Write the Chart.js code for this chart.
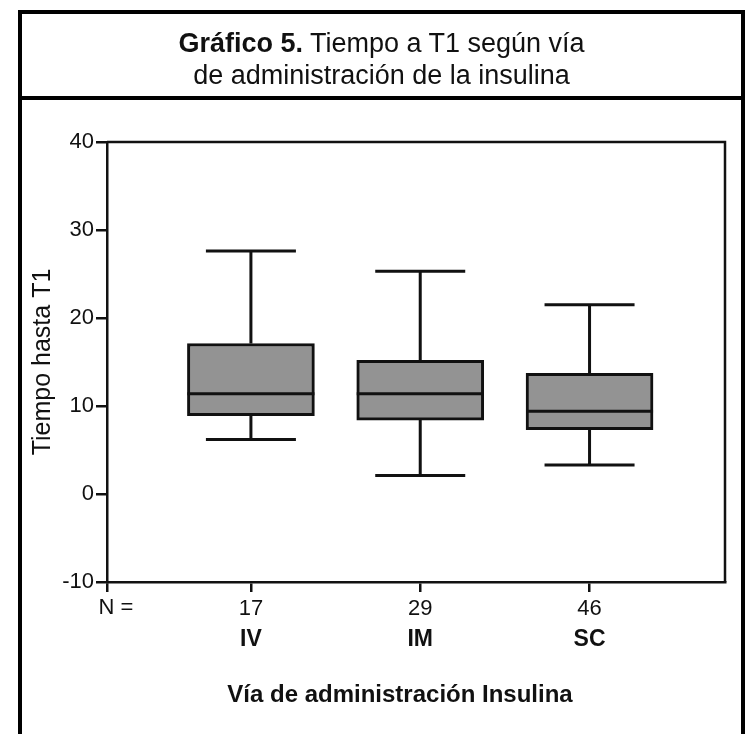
<!DOCTYPE html>
<html>
<head>
<meta charset="utf-8">
<script src="https://cdn.jsdelivr.net/npm/chart.js@4.4.1/dist/chart.umd.min.js"></script>
<style>
html,body{margin:0;padding:0;background:#fff;}
body{width:748px;height:734px;position:relative;overflow:hidden;font-family:"Liberation Sans",Arial,sans-serif;}
#chart{position:absolute;left:0;top:0;}
#frame{position:absolute;left:18px;top:10px;width:719px;height:740px;border:4px solid #000;border-bottom:none;pointer-events:none;}
#head{height:69px;padding-top:13px;border-bottom:4px solid #000;text-align:center;font-size:27px;line-height:32px;color:#111;}
</style>
</head>
<body>
<canvas id="chart" width="748" height="734"></canvas>
<div id="frame">
  <div id="head"><b>Gráfico 5.</b> Tiempo a T1 según vía<br>de administración de la insulina</div>
</div>
<script>
const categories = ['IV', 'IM', 'SC'];
const counts = [17, 29, 46];
const positions = [1, 2, 3];
const whiskerLow = [6.2, 2.1, 3.3];
const q1 = [8.9, 8.4, 7.3];
const median = [11.4, 11.4, 9.4];
const q3 = [17.1, 15.2, 13.7];
const whiskerHigh = [27.6, 25.3, 21.5];
const yTicks = [-10, 0, 10, 20, 30, 40];
const yTitle = 'Tiempo hasta T1';
const xTitle = 'Vía de administración Insulina';

const ink = '#111';
const fam = '"Liberation Sans", Arial, sans-serif';

const boxPlot = {
  id: 'boxPlot',
  beforeDatasetsDraw(chart){
    const {ctx, scales:{x, y}} = chart;
    ctx.save();
    ctx.strokeStyle = ink; ctx.lineWidth = 3;
    positions.forEach((p, i) => {
      const px = x.getPixelForValue(p);
      ctx.beginPath();
      ctx.moveTo(px, y.getPixelForValue(whiskerHigh[i])); ctx.lineTo(px, y.getPixelForValue(q3[i]));
      ctx.moveTo(px, y.getPixelForValue(q1[i])); ctx.lineTo(px, y.getPixelForValue(whiskerLow[i]));
      [whiskerHigh[i], whiskerLow[i]].forEach(v => {
        const py = y.getPixelForValue(v);
        ctx.moveTo(px - 45, py); ctx.lineTo(px + 45, py);
      });
      ctx.stroke();
    });
    ctx.restore();
  },
  afterDatasetsDraw(chart){
    const {ctx, chartArea:a, scales:{y}} = chart;
    const bars = chart.getDatasetMeta(0).data;
    ctx.save();
    ctx.strokeStyle = ink; ctx.lineWidth = 3;
    bars.forEach((b, i) => {
      const py = y.getPixelForValue(median[i]);
      ctx.beginPath(); ctx.moveTo(b.x - b.width/2, py); ctx.lineTo(b.x + b.width/2, py); ctx.stroke();
    });
    ctx.lineWidth = 2.5;
    ctx.beginPath();
    ctx.moveTo(a.left, a.top); ctx.lineTo(a.right, a.top); ctx.lineTo(a.right, a.bottom);
    ctx.stroke();
    ctx.restore();
  },
  afterDraw(chart){
    const {ctx, chartArea:a, scales:{x}} = chart;
    ctx.save();
    ctx.fillStyle = ink;
    ctx.font = '22px ' + fam;
    ctx.textAlign = 'center'; ctx.textBaseline = 'top';
    ctx.fillText('N =', x.left + 9, x.top + 15);
    ctx.font = 'bold 24px ' + fam;
    ctx.textBaseline = 'middle';
    ctx.fillText(xTitle, (a.left + a.right)/2 - 16, 695);
    ctx.restore();
  }
};

const xTicks = s => { s.ticks = [s.min, ...positions].map(v => ({value: v})); };

new Chart(document.getElementById('chart'), {
  type: 'bar',
  data: {
    datasets: [{
      data: positions.map((p, i) => ({x: p, y: [q1[i], q3[i]]})),
      backgroundColor: '#939393',
      borderColor: ink,
      borderWidth: 3,
      borderSkipped: false,
      barThickness: 127
    }]
  },
  options: {
    responsive: false,
    animation: false,
    events: [],
    layout: {padding: {top: 142, right: 23, bottom: 0, left: 0}},
    plugins: {legend: {display: false}, tooltip: {enabled: false}},
    scales: {
      x: {
        type: 'linear', min: 0.15, max: 3.8, offset: false,
        afterBuildTicks: xTicks,
        afterFit: s => { s.height = 44; },
        grid: {offset: false, drawOnChartArea: false, drawTicks: true, tickLength: 10, color: ink, lineWidth: 2.5},
        border: {display: true, color: ink, width: 2.5},
        ticks: {
          autoSkip: false, maxRotation: 0, padding: 4, color: ink,
          font: {family: fam, size: 22},
          callback: (v, i) => i === 0 ? '' : String(counts[i - 1])
        }
      },
      x2: {
        type: 'linear', position: 'bottom', weight: 1, min: 0.15, max: 3.8, offset: false,
        afterBuildTicks: xTicks,
        afterFit: s => { s.height = 108; },
        grid: {display: false, drawTicks: false},
        border: {display: false},
        ticks: {
          autoSkip: false, maxRotation: 0, padding: 0, color: ink,
          font: {family: fam, size: 23, weight: 'bold'},
          callback: (v, i) => i === 0 ? '' : categories[i - 1]
        }
      },
      y: {
        type: 'linear', min: -10, max: 40,
        afterBuildTicks: s => { s.ticks = yTicks.map(v => ({value: v})); },
        afterFit: s => { s.width = 107; },
        grid: {drawOnChartArea: false, drawTicks: true, tickLength: 11, color: ink, lineWidth: 2.5},
        border: {display: true, color: ink, width: 2.5},
        ticks: {
          padding: 2, color: ink,
          font: {family: fam, size: 22}
        },
        title: {
          display: true, text: yTitle, color: ink, padding: {top: 28, bottom: 0},
          font: {family: fam, size: 25}
        }
      }
    }
  },
  plugins: [boxPlot]
});
</script>
</body>
</html>
